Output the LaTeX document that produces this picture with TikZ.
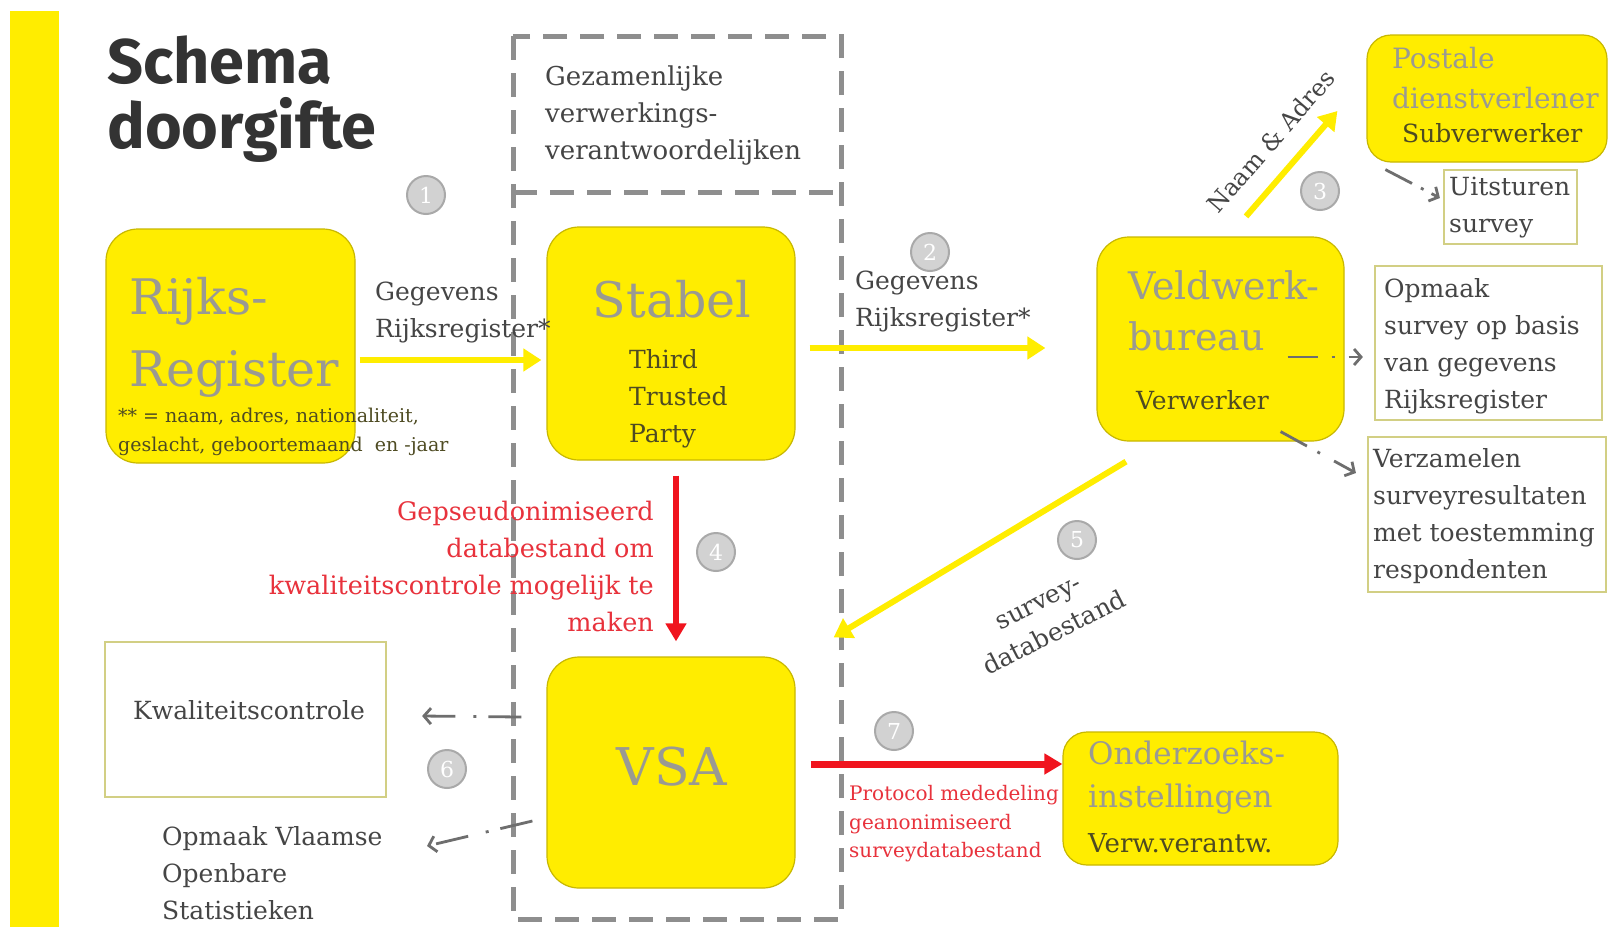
\documentclass[tikz,border=0pt]{standalone}
\usepackage{fontspec}
\setmainfont{DejaVu Serif}
\newfontfamily\titlefont{Fira Sans}
\usetikzlibrary{arrows.meta,calc}
\definecolor{yfill}{HTML}{FFED00}
\definecolor{yborder}{HTML}{C8B800}
\definecolor{bigtxt}{HTML}{9A9A92}
\definecolor{dtxt}{HTML}{454545}
\definecolor{otxt}{HTML}{4E4B22}
\definecolor{redc}{HTML}{F0141E}
\definecolor{redt}{HTML}{E8323C}
\definecolor{oborder}{HTML}{D2CF84}
\definecolor{gdashc}{HTML}{8E8E8E}
\definecolor{garr}{HTML}{6E6E6E}
\definecolor{numfill}{HTML}{D2D2D2}
\definecolor{numdraw}{HTML}{A9A9A9}
\definecolor{titlec}{HTML}{333333}
\newcommand{\myfs}[2]{\fontsize{#1}{#2}\selectfont}
\begin{document}
\begin{tikzpicture}[x=1pt,y=-1pt,
  ybox/.style={draw=yborder, fill=yfill, line width=1.2pt, rounded corners=32pt, inner sep=0pt},
  obox/.style={draw=oborder, line width=2.2pt, inner sep=0pt},
  txt/.style={inner sep=0pt, anchor=west, align=left, text=dtxt},
  yarrow/.style={draw=yfill, line width=6pt, -{Triangle[length=18pt,width=22pt]}},
  rarrow/.style={draw=redc, line width=6pt, -{Triangle[length=18pt,width=20pt]}},
  garrow/.style={draw=garr, line width=2.8pt, -{Straight Barb[length=7pt,width=16pt]}},
  gdash/.style={draw=gdashc, line width=5pt, dash pattern=on 24pt off 13pt},
  num/.style={circle, fill=numfill, draw=numdraw, line width=2pt, minimum size=38pt, inner sep=0pt, text=white, font=\myfs{22}{22}}
]
\useasboundingbox (0,0) rectangle (1608,927);
\fill[white] (0,0) rectangle (1608,927);
% left bar
\fill[yfill] (10,11) rectangle (59,927);
% title
\node[inner sep=0pt, anchor=west, align=left, text=titlec, font=\titlefont\bfseries\myfs{63}{65}] (title) at (107,99) {Schema\\doorgifte};

% dashed containers
\draw[gdash] (513,36) rectangle (841,919);
\draw[gdash] (513,192) -- (841,192);
\node[txt, font=\myfs{26}{37}] (gez) at (545,116) {Gezamenlijke\\verwerkings-\\verantwoordelijken};

% boxes
\node[ybox, minimum width=249pt, minimum height=234pt] (rr) at (230.5,346) {};
\node[ybox, minimum width=248pt, minimum height=233pt] (stabel) at (671,343.5) {};
\node[ybox, minimum width=247pt, minimum height=204pt] (veld) at (1220.5,339) {};
\node[ybox, minimum width=240pt, minimum height=127pt, rounded corners=24pt] (postale) at (1487,98.5) {};
\node[ybox, minimum width=248pt, minimum height=231pt] (vsa) at (671,772.5) {};
\node[ybox, minimum width=275pt, minimum height=133pt, rounded corners=24pt] (onder) at (1200.5,798.5) {};
\node[obox, minimum width=133pt, minimum height=74pt] (uits) at (1510.5,207) {};
\node[obox, minimum width=227pt, minimum height=154pt] (opm) at (1488.5,343) {};
\node[obox, minimum width=238pt, minimum height=155pt] (verz) at (1487,514.5) {};
\node[obox, minimum width=281pt, minimum height=155pt] (kwal) at (245.5,719.5) {};

% texts in boxes
\node[txt, text=bigtxt, font=\myfs{49}{72}] (rrt) at (129,337) {Rijks-\\Register};
\node[txt, text=otxt, font=\myfs{19}{29}] (rrn) at (118,432) {** = naam, adres, nationaliteit,\\geslacht, geboortemaand\ \ en -jaar};
\node[inner sep=0pt, text=bigtxt, font=\myfs{49}{49}] (stt) at (672,299) {Stabel};
\node[txt, text=otxt, font=\myfs{25}{37}] (ttp) at (629,399) {Third\\Trusted\\Party};
\node[txt, text=bigtxt, font=\myfs{38}{51}] (vwt) at (1128,311) {Veldwerk-\\bureau};
\node[txt, text=otxt, font=\myfs{25}{25}] (vwv) at (1136,400) {Verwerker};
\node[txt, text=bigtxt, font=\myfs{28}{40}] (pst) at (1392,78) {Postale\\dienstverlener};
\node[txt, text=otxt, font=\myfs{25}{25}] (psv) at (1402,133) {Subverwerker};
\node[inner sep=0pt, text=bigtxt, font=\myfs{52}{52}] (vsat) at (672,767) {VSA};
\node[txt, text=bigtxt, font=\myfs{31}{43}] (ondt) at (1088,778) {Onderzoeks-\\instellingen};
\node[txt, text=otxt, font=\myfs{26}{26}] (ondv) at (1088,843) {Verw.verantw.};
\node[txt, font=\myfs{25}{37}] (uitst) at (1449,208) {Uitsturen\\survey};
\node[txt, font=\myfs{25}{37}] (opmt) at (1384,346) {Opmaak\\survey op basis\\van gegevens\\Rijksregister};
\node[txt, font=\myfs{25}{37}] (verzt) at (1373,516) {Verzamelen\\surveyresultaten\\met toestemming\\respondenten};
\node[txt, font=\myfs{25}{25}] (kwalt) at (133,710) {Kwaliteitscontrole};
\node[txt, font=\myfs{25}{37}] (vlaams) at (162,873) {Opmaak Vlaamse\\Openbare\\Statistieken};

% arrow labels
\node[txt, font=\myfs{25}{37}] (lab1) at (375,312) {Gegevens\\Rijksregister*};
\node[txt, font=\myfs{25}{37}] (lab2) at (855,301) {Gegevens\\Rijksregister*};
\node[inner sep=0pt, text=dtxt, font=\myfs{24}{24}, rotate=49] (lab3) at (1271,141) {Naam \& Adres};
\node[inner sep=0pt, text=dtxt, align=center, font=\myfs{25}{35}, rotate=27] (lab5) at (1047,619) {survey-\\databestand};
\node[inner sep=0pt, anchor=east, align=right, text=redt, font=\myfs{25.5}{37}] (lab4) at (654,566) {Gepseudonimiseerd\\databestand om\\kwaliteitscontrole mogelijk te\\maken};
\node[txt, text=redt, font=\myfs{20}{28.5}] (lab7) at (849,824) {Protocol mededeling\\geanonimiseerd\\surveydatabestand};

% numbered circles
\node[num] (n1) at (426,195) {1};
\node[num] (n2) at (930,252) {2};
\node[num] (n3) at (1320,191) {3};
\node[num] (n4) at (716,552) {4};
\node[num] (n5) at (1077,540) {5};
\node[num] (n6) at (447,769) {6};
\node[num] (n7) at (894,731) {7};

% yellow arrows
\draw[yarrow] ($(rr.east)+(4,14)$) -- ($(stabel.west)+(-5,16.5)$);
\draw[yarrow] ($(stabel.east)+(14,4.5)$) -- ($(veld.west)+(-51,9)$);
\draw[yarrow] ($(veld.north)+(25.5,-20)$) -- ($(postale.west)+(-29,12.5)$);
\draw[yarrow] ($(veld.south)+(-94.5,20)$) -- ($(vsa.north east)+(38,-19)$);
% red arrows
\draw[rarrow] ($(stabel.south)+(5,15)$) -- ($(vsa.north)+(5,-15)$);
\draw[rarrow, line width=7pt] ($(vsa.east)+(15,-8.5)$) -- ($(onder.west)+(0,-34.5)$);
% gray dash-dot arrows
\draw[garrow, dash pattern=on 30pt off 10pt on 3pt off 9pt] ($(postale.south west)+(19,7)$) -- ($(uits.west)+(-3,-9)$);
\draw[garrow, dash pattern=on 30pt off 14pt on 3pt off 14pt] ($(veld.east)+(-57,18)$) -- ($(opm.west)+(-11,14)$);
\draw[garrow, dash pattern=on 30pt off 12pt on 3pt off 16pt] ($(veld.south east)+(-64,-10)$) -- ($(verz.west)+(-11,-41.5)$);
\draw[garrow, dash pattern=on 33pt off 12pt on 3pt off 18pt] ($(vsa.west)+(-25,-55.5)$) -- ($(kwal.east)+(35,-3.5)$);
\coordinate (vlaamsend) at (427,846);
\draw[garrow, dash pattern=on 33pt off 12pt on 3pt off 18pt] ($(vsa.west)+(-14,48.5)$) -- (vlaamsend);
\end{tikzpicture}
\end{document}
